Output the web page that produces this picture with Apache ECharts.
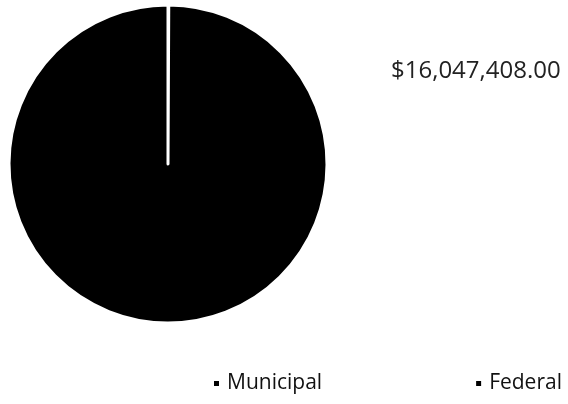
<!DOCTYPE html>
<html>
<head>
<meta charset="utf-8">
<style>html,body{margin:0;padding:0;background:#fff}#c{width:568px;height:404px}</style>
<script src="https://cdn.jsdelivr.net/npm/echarts@6/dist/echarts.min.js"></script>
</head>
<body>
<div id="c"></div>
<script>
var categories = ['Municipal', 'Federal'];
var values = [12000, 16047408];
var labelText = '$16,047,408.00';

var chart = echarts.init(document.getElementById('c'), null, {renderer: 'canvas'});
chart.setOption({
  animation: false,
  backgroundColor: '#ffffff',
  title: {
    text: labelText,
    left: 386, top: 54,
    textStyle: {fontFamily: 'Open Sans', fontSize: 24, fontWeight: 'normal', color: '#222'}
  },
  legend: {
    data: categories,
    left: 212, top: 373, width: 400, padding: 0,
    icon: 'rect', itemWidth: 7, itemHeight: 7,
    itemGap: 152,
    textStyle: {fontFamily: 'Open Sans', fontSize: 21, color: '#111', padding: [0,0,0,2]}
  },
  series: [{
    type: 'pie',
    center: [168, 164],
    radius: [0, 159],
    startAngle: 90,
    clockwise: true,
    label: {show: false},
    labelLine: {show: false},
    itemStyle: {color: '#000', borderColor: '#fff', borderWidth: 3},
    emphasis: {disabled: true},
    data: categories.map(function(c, i){ return {name: c, value: values[i]}; })
  }]
});
</script>
</body>
</html>
